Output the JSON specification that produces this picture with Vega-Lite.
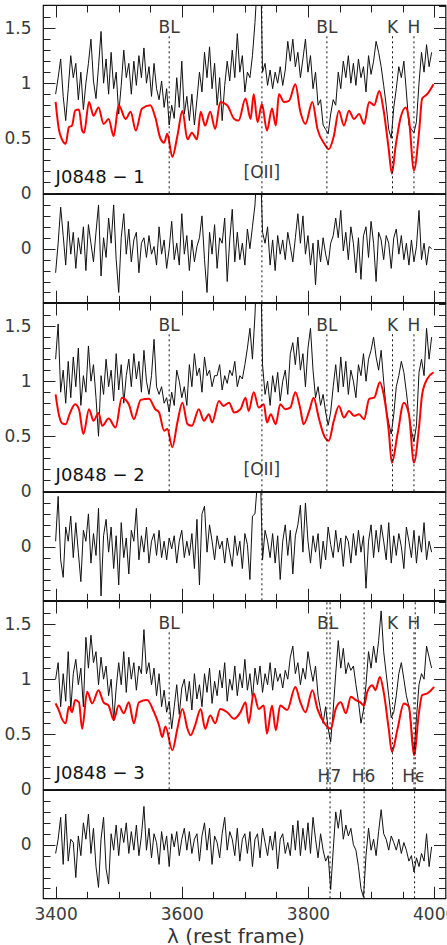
{
"$schema": "https://vega.github.io/schema/vega-lite/v6.json",
"padding": {"left": 3, "top": 3, "right": 0, "bottom": 0},
"background": "white",
"spacing": 0,
"bounds": "flush",
"config": {
 "view": {"stroke": "#111", "strokeWidth": 1.2},
 "axis": {"domain": false, "grid": false, "tickColor": "#222", "tickWidth": 1, "labelFont": "DejaVu Sans", "labelFontSize": 17, "labelColor": "#3a3a3a", "labelFlush": false, "labelOverlap": false, "labelBound": false, "titleFont": "DejaVu Sans"}
},
"datasets": {
"b1": [{"w":3400,"f":0.90},{"w":3404,"f":1.05},{"w":3408,"f":1.22},{"w":3412,"f":0.88},{"w":3416,"f":0.66},{"w":3420,"f":0.95},{"w":3424,"f":1.25},{"w":3428,"f":1.05},{"w":3432,"f":1.18},{"w":3436,"f":0.85},{"w":3440,"f":1.10},{"w":3444,"f":0.76},{"w":3448,"f":1.00},{"w":3452,"f":1.18},{"w":3456,"f":1.40},{"w":3460,"f":1.02},{"w":3464,"f":0.86},{"w":3468,"f":1.15},{"w":3472,"f":1.47},{"w":3476,"f":1.00},{"w":3480,"f":1.22},{"w":3484,"f":0.90},{"w":3488,"f":1.28},{"w":3492,"f":0.95},{"w":3496,"f":1.10},{"w":3500,"f":0.72},{"w":3504,"f":0.98},{"w":3508,"f":1.30},{"w":3512,"f":1.05},{"w":3516,"f":1.18},{"w":3520,"f":0.90},{"w":3524,"f":1.20},{"w":3528,"f":0.98},{"w":3532,"f":1.25},{"w":3536,"f":1.05},{"w":3540,"f":1.32},{"w":3544,"f":1.00},{"w":3548,"f":1.15},{"w":3552,"f":0.88},{"w":3556,"f":1.18},{"w":3560,"f":0.95},{"w":3564,"f":0.85},{"w":3568,"f":1.02},{"w":3572,"f":0.78},{"w":3576,"f":0.95},{"w":3580,"f":0.62},{"w":3584,"f":0.80},{"w":3588,"f":0.68},{"w":3592,"f":1.05},{"w":3596,"f":0.78},{"w":3600,"f":1.20},{"w":3604,"f":0.72},{"w":3608,"f":0.88},{"w":3612,"f":0.66},{"w":3616,"f":0.90},{"w":3620,"f":0.62},{"w":3624,"f":0.85},{"w":3628,"f":1.10},{"w":3632,"f":0.92},{"w":3636,"f":1.28},{"w":3640,"f":1.05},{"w":3644,"f":1.33},{"w":3648,"f":0.95},{"w":3652,"f":1.18},{"w":3656,"f":0.80},{"w":3660,"f":1.05},{"w":3664,"f":0.66},{"w":3668,"f":0.98},{"w":3672,"f":1.20},{"w":3676,"f":1.02},{"w":3680,"f":1.30},{"w":3684,"f":1.05},{"w":3688,"f":1.45},{"w":3692,"f":1.10},{"w":3696,"f":1.25},{"w":3700,"f":0.92},{"w":3704,"f":1.10},{"w":3708,"f":1.05},{"w":3712,"f":1.25},{"w":3716,"f":1.55},{"w":3720,"f":1.95},{"w":3724,"f":2.40},{"w":3728,"f":1.10},{"w":3732,"f":1.18},{"w":3736,"f":0.98},{"w":3740,"f":1.12},{"w":3744,"f":0.95},{"w":3748,"f":1.10},{"w":3752,"f":1.00},{"w":3756,"f":1.15},{"w":3760,"f":0.98},{"w":3764,"f":1.12},{"w":3768,"f":1.38},{"w":3772,"f":1.20},{"w":3776,"f":1.40},{"w":3780,"f":1.15},{"w":3784,"f":1.28},{"w":3788,"f":1.05},{"w":3792,"f":1.22},{"w":3796,"f":1.40},{"w":3800,"f":1.10},{"w":3804,"f":1.25},{"w":3808,"f":0.95},{"w":3812,"f":1.10},{"w":3816,"f":0.80},{"w":3820,"f":0.85},{"w":3824,"f":0.62},{"w":3828,"f":0.58},{"w":3832,"f":0.54},{"w":3836,"f":0.72},{"w":3840,"f":0.85},{"w":3844,"f":0.80},{"w":3848,"f":1.10},{"w":3852,"f":0.95},{"w":3856,"f":1.20},{"w":3860,"f":1.05},{"w":3864,"f":1.25},{"w":3868,"f":1.00},{"w":3872,"f":1.18},{"w":3876,"f":0.98},{"w":3880,"f":1.22},{"w":3884,"f":1.05},{"w":3888,"f":1.15},{"w":3892,"f":0.92},{"w":3896,"f":1.25},{"w":3900,"f":1.08},{"w":3904,"f":1.20},{"w":3908,"f":1.38},{"w":3912,"f":1.28},{"w":3916,"f":1.15},{"w":3920,"f":0.98},{"w":3924,"f":0.80},{"w":3928,"f":0.58},{"w":3932,"f":0.50},{"w":3936,"f":0.78},{"w":3940,"f":0.95},{"w":3944,"f":1.15},{"w":3948,"f":1.05},{"w":3952,"f":1.20},{"w":3956,"f":0.92},{"w":3960,"f":0.62},{"w":3964,"f":0.58},{"w":3968,"f":0.55},{"w":3972,"f":0.65},{"w":3976,"f":1.00},{"w":3980,"f":1.28},{"w":3984,"f":1.10},{"w":3988,"f":1.35},{"w":3992,"f":1.15},{"w":3996,"f":1.28}],
"m1": [{"w":3400,"f":0.83},{"w":3405,"f":0.585},{"w":3410,"f":0.49},{"w":3416,"f":0.45},{"w":3421,"f":0.60},{"w":3426,"f":0.615},{"w":3431,"f":0.75},{"w":3437,"f":0.76},{"w":3442,"f":0.57},{"w":3445,"f":0.55},{"w":3453,"f":0.83},{"w":3460,"f":0.705},{"w":3468,"f":0.78},{"w":3476,"f":0.63},{"w":3484,"f":0.675},{"w":3492,"f":0.52},{"w":3500,"f":0.80},{"w":3511,"f":0.675},{"w":3519,"f":0.74},{"w":3527,"f":0.57},{"w":3537,"f":0.77},{"w":3550,"f":0.80},{"w":3558,"f":0.69},{"w":3566,"f":0.50},{"w":3572,"f":0.46},{"w":3577,"f":0.54},{"w":3585,"f":0.33},{"w":3593,"f":0.52},{"w":3601,"f":0.75},{"w":3609,"f":0.49},{"w":3616,"f":0.55},{"w":3624,"f":0.49},{"w":3630,"f":0.74},{"w":3637,"f":0.615},{"w":3645,"f":0.74},{"w":3653,"f":0.585},{"w":3661,"f":0.83},{"w":3672,"f":0.80},{"w":3683,"f":0.675},{"w":3690,"f":0.66},{"w":3701,"f":0.86},{"w":3709,"f":0.675},{"w":3714,"f":0.90},{"w":3720,"f":0.645},{"w":3727,"f":0.81},{"w":3735,"f":0.57},{"w":3743,"f":0.77},{"w":3749,"f":0.615},{"w":3754,"f":0.90},{"w":3762,"f":0.83},{"w":3770,"f":0.84},{"w":3780,"f":0.99},{"w":3788,"f":0.74},{"w":3796,"f":0.63},{"w":3807,"f":0.83},{"w":3815,"f":0.585},{"w":3826,"f":0.45},{"w":3833,"f":0.40},{"w":3841,"f":0.52},{"w":3849,"f":0.75},{"w":3857,"f":0.615},{"w":3865,"f":0.75},{"w":3873,"f":0.675},{"w":3881,"f":0.72},{"w":3889,"f":0.63},{"w":3897,"f":0.83},{"w":3905,"f":0.80},{"w":3913,"f":0.93},{"w":3920,"f":0.75},{"w":3928,"f":0.40},{"w":3933,"f":0.18},{"w":3939,"f":0.43},{"w":3947,"f":0.69},{"w":3955,"f":0.78},{"w":3960,"f":0.675},{"w":3968,"f":0.21},{"w":3976,"f":0.55},{"w":3981,"f":0.86},{"w":3989,"f":0.90},{"w":3999,"f":0.99}],
"r1": [{"w":3400,"f":-0.22},{"w":3404,"f":0.05},{"w":3408,"f":0.38},{"w":3412,"f":0.12},{"w":3416,"f":-0.15},{"w":3420,"f":0.25},{"w":3424,"f":-0.05},{"w":3428,"f":0.15},{"w":3432,"f":-0.18},{"w":3436,"f":0.10},{"w":3440,"f":-0.05},{"w":3444,"f":0.20},{"w":3448,"f":-0.20},{"w":3452,"f":0.22},{"w":3456,"f":0.05},{"w":3460,"f":-0.12},{"w":3464,"f":0.15},{"w":3468,"f":0.40},{"w":3472,"f":-0.25},{"w":3476,"f":0.10},{"w":3480,"f":-0.08},{"w":3484,"f":0.28},{"w":3488,"f":0.05},{"w":3492,"f":0.40},{"w":3496,"f":-0.10},{"w":3500,"f":-0.40},{"w":3504,"f":0.10},{"w":3508,"f":0.32},{"w":3512,"f":-0.05},{"w":3516,"f":0.18},{"w":3520,"f":-0.12},{"w":3524,"f":0.08},{"w":3528,"f":0.15},{"w":3532,"f":-0.22},{"w":3536,"f":0.05},{"w":3540,"f":0.10},{"w":3544,"f":-0.08},{"w":3548,"f":0.12},{"w":3552,"f":-0.05},{"w":3556,"f":0.02},{"w":3560,"f":-0.15},{"w":3564,"f":0.20},{"w":3568,"f":-0.05},{"w":3572,"f":0.08},{"w":3576,"f":-0.18},{"w":3580,"f":0.00},{"w":3584,"f":0.25},{"w":3588,"f":-0.10},{"w":3592,"f":0.05},{"w":3596,"f":-0.15},{"w":3600,"f":0.32},{"w":3604,"f":-0.05},{"w":3608,"f":0.12},{"w":3612,"f":-0.20},{"w":3616,"f":0.08},{"w":3620,"f":-0.12},{"w":3624,"f":0.02},{"w":3628,"f":0.10},{"w":3632,"f":0.30},{"w":3636,"f":-0.10},{"w":3640,"f":-0.40},{"w":3644,"f":0.15},{"w":3648,"f":-0.05},{"w":3652,"f":0.22},{"w":3656,"f":-0.18},{"w":3660,"f":0.10},{"w":3664,"f":0.05},{"w":3668,"f":0.28},{"w":3672,"f":-0.30},{"w":3676,"f":0.08},{"w":3680,"f":0.36},{"w":3684,"f":-0.12},{"w":3688,"f":0.15},{"w":3692,"f":-0.10},{"w":3696,"f":0.05},{"w":3700,"f":-0.15},{"w":3704,"f":0.18},{"w":3708,"f":0.00},{"w":3712,"f":0.20},{"w":3716,"f":0.40},{"w":3720,"f":0.80},{"w":3724,"f":0.90},{"w":3728,"f":0.15},{"w":3732,"f":0.05},{"w":3736,"f":0.20},{"w":3740,"f":-0.15},{"w":3744,"f":0.08},{"w":3748,"f":-0.20},{"w":3752,"f":0.12},{"w":3756,"f":-0.05},{"w":3760,"f":0.08},{"w":3764,"f":-0.10},{"w":3768,"f":0.15},{"w":3772,"f":0.02},{"w":3776,"f":-0.12},{"w":3780,"f":0.10},{"w":3784,"f":0.32},{"w":3788,"f":0.05},{"w":3792,"f":0.30},{"w":3796,"f":-0.05},{"w":3800,"f":0.12},{"w":3804,"f":-0.15},{"w":3808,"f":0.05},{"w":3812,"f":-0.33},{"w":3816,"f":0.08},{"w":3820,"f":-0.12},{"w":3824,"f":0.10},{"w":3828,"f":-0.05},{"w":3832,"f":-0.15},{"w":3836,"f":0.05},{"w":3840,"f":0.12},{"w":3844,"f":0.28},{"w":3848,"f":0.10},{"w":3852,"f":0.35},{"w":3856,"f":-0.02},{"w":3860,"f":0.15},{"w":3864,"f":-0.10},{"w":3868,"f":0.20},{"w":3872,"f":0.05},{"w":3876,"f":-0.22},{"w":3880,"f":0.10},{"w":3884,"f":-0.28},{"w":3888,"f":0.12},{"w":3892,"f":0.20},{"w":3896,"f":-0.08},{"w":3900,"f":0.25},{"w":3904,"f":0.05},{"w":3908,"f":-0.30},{"w":3912,"f":0.15},{"w":3916,"f":0.08},{"w":3920,"f":-0.10},{"w":3924,"f":0.12},{"w":3928,"f":0.05},{"w":3932,"f":-0.18},{"w":3936,"f":0.10},{"w":3940,"f":0.18},{"w":3944,"f":-0.05},{"w":3948,"f":0.12},{"w":3952,"f":-0.10},{"w":3956,"f":0.05},{"w":3960,"f":-0.15},{"w":3964,"f":0.08},{"w":3968,"f":-0.12},{"w":3972,"f":0.02},{"w":3976,"f":0.35},{"w":3980,"f":-0.10},{"w":3984,"f":0.05},{"w":3988,"f":-0.15},{"w":3992,"f":0.02},{"w":3996,"f":0.00}],
"b2": [{"w":3400,"f":1.20},{"w":3404,"f":1.52},{"w":3408,"f":0.90},{"w":3412,"f":1.10},{"w":3416,"f":0.80},{"w":3420,"f":1.18},{"w":3424,"f":0.85},{"w":3428,"f":1.22},{"w":3432,"f":0.95},{"w":3436,"f":1.30},{"w":3440,"f":0.78},{"w":3444,"f":1.05},{"w":3448,"f":0.90},{"w":3452,"f":1.32},{"w":3456,"f":1.00},{"w":3460,"f":1.15},{"w":3464,"f":0.85},{"w":3468,"f":0.50},{"w":3472,"f":1.05},{"w":3476,"f":0.88},{"w":3480,"f":1.20},{"w":3484,"f":0.95},{"w":3488,"f":1.10},{"w":3492,"f":0.82},{"w":3496,"f":1.25},{"w":3500,"f":0.92},{"w":3504,"f":1.15},{"w":3508,"f":0.80},{"w":3512,"f":1.05},{"w":3516,"f":1.20},{"w":3520,"f":0.95},{"w":3524,"f":1.25},{"w":3528,"f":1.02},{"w":3532,"f":1.18},{"w":3536,"f":0.90},{"w":3540,"f":1.28},{"w":3544,"f":1.00},{"w":3548,"f":0.88},{"w":3552,"f":1.05},{"w":3556,"f":1.38},{"w":3560,"f":0.95},{"w":3564,"f":0.88},{"w":3568,"f":0.95},{"w":3572,"f":0.80},{"w":3576,"f":0.85},{"w":3580,"f":0.72},{"w":3584,"f":0.90},{"w":3588,"f":0.78},{"w":3592,"f":1.10},{"w":3596,"f":1.00},{"w":3600,"f":0.85},{"w":3604,"f":0.95},{"w":3608,"f":0.78},{"w":3612,"f":1.15},{"w":3616,"f":0.95},{"w":3620,"f":1.25},{"w":3624,"f":1.05},{"w":3628,"f":1.12},{"w":3632,"f":0.90},{"w":3636,"f":1.22},{"w":3640,"f":1.05},{"w":3644,"f":1.10},{"w":3648,"f":0.95},{"w":3652,"f":1.05},{"w":3656,"f":1.05},{"w":3660,"f":1.15},{"w":3664,"f":0.92},{"w":3668,"f":1.05},{"w":3672,"f":0.98},{"w":3676,"f":1.10},{"w":3680,"f":1.05},{"w":3684,"f":1.18},{"w":3688,"f":0.95},{"w":3692,"f":1.05},{"w":3696,"f":1.02},{"w":3700,"f":1.15},{"w":3704,"f":1.30},{"w":3708,"f":1.48},{"w":3712,"f":1.20},{"w":3716,"f":1.60},{"w":3720,"f":2.20},{"w":3724,"f":2.40},{"w":3728,"f":1.15},{"w":3732,"f":0.88},{"w":3736,"f":1.00},{"w":3740,"f":0.78},{"w":3744,"f":1.05},{"w":3748,"f":0.90},{"w":3752,"f":1.08},{"w":3756,"f":0.82},{"w":3760,"f":1.00},{"w":3764,"f":1.10},{"w":3768,"f":0.88},{"w":3772,"f":1.25},{"w":3776,"f":1.35},{"w":3780,"f":1.15},{"w":3784,"f":1.40},{"w":3788,"f":1.10},{"w":3792,"f":1.25},{"w":3796,"f":0.95},{"w":3800,"f":1.30},{"w":3804,"f":1.48},{"w":3808,"f":1.10},{"w":3812,"f":0.85},{"w":3816,"f":0.95},{"w":3820,"f":0.78},{"w":3824,"f":0.88},{"w":3828,"f":0.72},{"w":3832,"f":0.60},{"w":3836,"f":0.72},{"w":3840,"f":0.95},{"w":3844,"f":1.15},{"w":3848,"f":0.90},{"w":3852,"f":1.22},{"w":3856,"f":0.95},{"w":3860,"f":1.18},{"w":3864,"f":0.88},{"w":3868,"f":1.10},{"w":3872,"f":1.00},{"w":3876,"f":0.85},{"w":3880,"f":1.15},{"w":3884,"f":1.05},{"w":3888,"f":1.25},{"w":3892,"f":1.00},{"w":3896,"f":1.20},{"w":3900,"f":1.28},{"w":3904,"f":1.40},{"w":3908,"f":1.22},{"w":3912,"f":1.10},{"w":3916,"f":1.28},{"w":3920,"f":1.00},{"w":3924,"f":0.75},{"w":3928,"f":0.62},{"w":3932,"f":0.52},{"w":3936,"f":0.70},{"w":3940,"f":0.95},{"w":3944,"f":1.05},{"w":3948,"f":1.18},{"w":3952,"f":1.08},{"w":3956,"f":0.90},{"w":3960,"f":0.70},{"w":3964,"f":0.55},{"w":3968,"f":0.45},{"w":3972,"f":0.60},{"w":3976,"f":1.08},{"w":3980,"f":1.20},{"w":3984,"f":1.05},{"w":3988,"f":1.48},{"w":3992,"f":1.20},{"w":3996,"f":1.40}],
"m2": [{"w":3400,"f":0.88},{"w":3405,"f":0.70},{"w":3410,"f":0.62},{"w":3416,"f":0.61},{"w":3423,"f":0.715},{"w":3431,"f":0.79},{"w":3437,"f":0.745},{"w":3444,"f":0.52},{"w":3453,"f":0.745},{"w":3460,"f":0.64},{"w":3468,"f":0.71},{"w":3474,"f":0.595},{"w":3484,"f":0.66},{"w":3495,"f":0.58},{"w":3505,"f":0.85},{"w":3516,"f":0.79},{"w":3524,"f":0.655},{"w":3535,"f":0.83},{"w":3548,"f":0.84},{"w":3558,"f":0.745},{"w":3564,"f":0.715},{"w":3572,"f":0.55},{"w":3577,"f":0.565},{"w":3585,"f":0.40},{"w":3593,"f":0.625},{"w":3601,"f":0.805},{"w":3609,"f":0.61},{"w":3616,"f":0.595},{"w":3627,"f":0.745},{"w":3635,"f":0.64},{"w":3643,"f":0.70},{"w":3648,"f":0.625},{"w":3659,"f":0.82},{"w":3666,"f":0.775},{"w":3675,"f":0.805},{"w":3683,"f":0.715},{"w":3693,"f":0.745},{"w":3701,"f":0.85},{"w":3706,"f":0.73},{"w":3714,"f":0.90},{"w":3722,"f":0.76},{"w":3730,"f":0.79},{"w":3735,"f":0.625},{"w":3741,"f":0.70},{"w":3749,"f":0.61},{"w":3756,"f":0.79},{"w":3764,"f":0.745},{"w":3772,"f":0.76},{"w":3780,"f":0.90},{"w":3788,"f":0.745},{"w":3793,"f":0.61},{"w":3802,"f":0.73},{"w":3809,"f":0.85},{"w":3817,"f":0.67},{"w":3826,"f":0.50},{"w":3833,"f":0.46},{"w":3841,"f":0.64},{"w":3849,"f":0.775},{"w":3857,"f":0.67},{"w":3865,"f":0.73},{"w":3873,"f":0.685},{"w":3881,"f":0.70},{"w":3889,"f":0.655},{"w":3897,"f":0.84},{"w":3905,"f":0.85},{"w":3914,"f":0.99},{"w":3920,"f":0.88},{"w":3928,"f":0.55},{"w":3933,"f":0.26},{"w":3942,"f":0.52},{"w":3952,"f":0.805},{"w":3960,"f":0.70},{"w":3968,"f":0.26},{"w":3976,"f":0.58},{"w":3981,"f":0.88},{"w":3989,"f":1.02},{"w":3999,"f":1.08}],
"r2": [{"w":3400,"f":0.05},{"w":3404,"f":0.46},{"w":3408,"f":-0.12},{"w":3412,"f":-0.28},{"w":3416,"f":0.18},{"w":3420,"f":0.05},{"w":3424,"f":0.28},{"w":3428,"f":-0.10},{"w":3432,"f":0.22},{"w":3436,"f":-0.05},{"w":3440,"f":-0.32},{"w":3444,"f":0.15},{"w":3448,"f":0.05},{"w":3452,"f":0.30},{"w":3456,"f":-0.15},{"w":3460,"f":0.12},{"w":3464,"f":-0.08},{"w":3468,"f":0.35},{"w":3472,"f":-0.45},{"w":3476,"f":0.10},{"w":3480,"f":0.25},{"w":3484,"f":-0.05},{"w":3488,"f":0.18},{"w":3492,"f":-0.20},{"w":3496,"f":0.10},{"w":3500,"f":-0.35},{"w":3504,"f":0.22},{"w":3508,"f":-0.10},{"w":3512,"f":0.08},{"w":3516,"f":-0.25},{"w":3520,"f":0.15},{"w":3524,"f":0.05},{"w":3528,"f":0.35},{"w":3532,"f":-0.12},{"w":3536,"f":0.10},{"w":3540,"f":-0.05},{"w":3544,"f":0.18},{"w":3548,"f":-0.15},{"w":3552,"f":0.05},{"w":3556,"f":0.12},{"w":3560,"f":-0.08},{"w":3564,"f":0.15},{"w":3568,"f":-0.10},{"w":3572,"f":0.05},{"w":3576,"f":-0.12},{"w":3580,"f":0.08},{"w":3584,"f":-0.02},{"w":3588,"f":0.10},{"w":3592,"f":-0.15},{"w":3596,"f":0.05},{"w":3600,"f":0.15},{"w":3604,"f":-0.10},{"w":3608,"f":0.05},{"w":3612,"f":-0.08},{"w":3616,"f":0.12},{"w":3620,"f":-0.20},{"w":3624,"f":0.25},{"w":3628,"f":-0.35},{"w":3632,"f":0.30},{"w":3636,"f":0.37},{"w":3640,"f":-0.05},{"w":3644,"f":0.20},{"w":3648,"f":0.05},{"w":3652,"f":-0.12},{"w":3656,"f":0.10},{"w":3660,"f":-0.02},{"w":3664,"f":0.05},{"w":3668,"f":-0.15},{"w":3672,"f":0.08},{"w":3676,"f":-0.05},{"w":3680,"f":-0.18},{"w":3684,"f":0.10},{"w":3688,"f":-0.08},{"w":3692,"f":0.05},{"w":3696,"f":-0.20},{"w":3700,"f":0.12},{"w":3704,"f":0.02},{"w":3708,"f":-0.30},{"w":3712,"f":0.28},{"w":3716,"f":0.30},{"w":3720,"f":0.60},{"w":3724,"f":0.80},{"w":3728,"f":-0.12},{"w":3732,"f":0.15},{"w":3736,"f":0.05},{"w":3740,"f":-0.10},{"w":3744,"f":0.12},{"w":3748,"f":-0.15},{"w":3752,"f":0.10},{"w":3756,"f":-0.30},{"w":3760,"f":0.05},{"w":3764,"f":0.20},{"w":3768,"f":-0.08},{"w":3772,"f":0.15},{"w":3776,"f":-0.25},{"w":3780,"f":0.10},{"w":3784,"f":0.20},{"w":3788,"f":0.38},{"w":3792,"f":-0.05},{"w":3796,"f":0.40},{"w":3800,"f":0.05},{"w":3804,"f":-0.15},{"w":3808,"f":0.10},{"w":3812,"f":-0.05},{"w":3816,"f":0.12},{"w":3820,"f":-0.20},{"w":3824,"f":0.05},{"w":3828,"f":-0.12},{"w":3832,"f":0.18},{"w":3836,"f":0.02},{"w":3840,"f":-0.10},{"w":3844,"f":0.15},{"w":3848,"f":-0.05},{"w":3852,"f":0.08},{"w":3856,"f":-0.18},{"w":3860,"f":0.10},{"w":3864,"f":0.05},{"w":3868,"f":-0.15},{"w":3872,"f":0.12},{"w":3876,"f":-0.08},{"w":3880,"f":0.15},{"w":3884,"f":-0.05},{"w":3888,"f":0.10},{"w":3892,"f":-0.38},{"w":3896,"f":0.05},{"w":3900,"f":0.20},{"w":3904,"f":-0.10},{"w":3908,"f":0.15},{"w":3912,"f":-0.05},{"w":3916,"f":0.20},{"w":3920,"f":0.05},{"w":3924,"f":-0.12},{"w":3928,"f":0.22},{"w":3932,"f":-0.15},{"w":3936,"f":0.10},{"w":3940,"f":-0.08},{"w":3944,"f":0.12},{"w":3948,"f":0.00},{"w":3952,"f":-0.20},{"w":3956,"f":0.18},{"w":3960,"f":0.05},{"w":3964,"f":-0.10},{"w":3968,"f":0.15},{"w":3972,"f":-0.15},{"w":3976,"f":0.10},{"w":3980,"f":-0.05},{"w":3984,"f":0.22},{"w":3988,"f":-0.12},{"w":3992,"f":0.05},{"w":3996,"f":-0.05}],
"b3": [{"w":3400,"f":1.00},{"w":3404,"f":1.15},{"w":3408,"f":0.75},{"w":3412,"f":1.05},{"w":3416,"f":0.80},{"w":3420,"f":1.25},{"w":3424,"f":0.72},{"w":3428,"f":1.05},{"w":3432,"f":1.18},{"w":3436,"f":0.95},{"w":3440,"f":1.10},{"w":3444,"f":0.75},{"w":3448,"f":1.38},{"w":3452,"f":1.10},{"w":3456,"f":1.40},{"w":3460,"f":1.15},{"w":3464,"f":1.25},{"w":3468,"f":0.95},{"w":3472,"f":1.20},{"w":3476,"f":1.00},{"w":3480,"f":1.12},{"w":3484,"f":0.85},{"w":3488,"f":1.00},{"w":3492,"f":0.62},{"w":3496,"f":0.92},{"w":3500,"f":1.15},{"w":3504,"f":0.95},{"w":3508,"f":1.25},{"w":3512,"f":0.88},{"w":3516,"f":1.20},{"w":3520,"f":1.00},{"w":3524,"f":1.15},{"w":3528,"f":0.90},{"w":3532,"f":1.12},{"w":3536,"f":1.05},{"w":3540,"f":1.45},{"w":3544,"f":1.05},{"w":3548,"f":1.15},{"w":3552,"f":0.95},{"w":3556,"f":1.10},{"w":3560,"f":0.85},{"w":3564,"f":1.05},{"w":3568,"f":0.75},{"w":3572,"f":0.90},{"w":3576,"f":0.70},{"w":3580,"f":0.80},{"w":3584,"f":0.55},{"w":3588,"f":0.75},{"w":3592,"f":0.95},{"w":3596,"f":0.68},{"w":3600,"f":0.92},{"w":3604,"f":1.00},{"w":3608,"f":0.80},{"w":3612,"f":0.98},{"w":3616,"f":0.72},{"w":3620,"f":1.05},{"w":3624,"f":0.82},{"w":3628,"f":0.95},{"w":3632,"f":0.75},{"w":3636,"f":1.05},{"w":3640,"f":0.88},{"w":3644,"f":1.10},{"w":3648,"f":0.78},{"w":3652,"f":0.98},{"w":3656,"f":0.85},{"w":3660,"f":1.08},{"w":3664,"f":0.92},{"w":3668,"f":1.15},{"w":3672,"f":0.80},{"w":3676,"f":1.00},{"w":3680,"f":0.90},{"w":3684,"f":1.12},{"w":3688,"f":0.85},{"w":3692,"f":1.05},{"w":3696,"f":0.92},{"w":3700,"f":1.18},{"w":3704,"f":0.90},{"w":3708,"f":1.05},{"w":3712,"f":0.82},{"w":3716,"f":1.10},{"w":3720,"f":0.95},{"w":3724,"f":1.12},{"w":3728,"f":0.88},{"w":3732,"f":1.05},{"w":3736,"f":0.95},{"w":3740,"f":1.15},{"w":3744,"f":0.90},{"w":3748,"f":1.10},{"w":3752,"f":0.98},{"w":3756,"f":1.05},{"w":3760,"f":0.92},{"w":3764,"f":1.08},{"w":3768,"f":1.00},{"w":3772,"f":1.20},{"w":3776,"f":1.30},{"w":3780,"f":1.05},{"w":3784,"f":1.15},{"w":3788,"f":0.95},{"w":3792,"f":1.10},{"w":3796,"f":1.00},{"w":3800,"f":1.25},{"w":3804,"f":1.10},{"w":3808,"f":0.98},{"w":3812,"f":1.12},{"w":3816,"f":0.85},{"w":3820,"f":0.72},{"w":3824,"f":0.60},{"w":3828,"f":0.75},{"w":3832,"f":0.55},{"w":3836,"f":0.43},{"w":3840,"f":0.72},{"w":3844,"f":1.05},{"w":3848,"f":1.35},{"w":3852,"f":1.10},{"w":3856,"f":1.28},{"w":3860,"f":1.05},{"w":3864,"f":1.15},{"w":3868,"f":1.08},{"w":3872,"f":1.12},{"w":3876,"f":0.95},{"w":3880,"f":0.80},{"w":3884,"f":0.60},{"w":3888,"f":0.72},{"w":3892,"f":0.95},{"w":3896,"f":1.25},{"w":3900,"f":1.10},{"w":3904,"f":1.30},{"w":3908,"f":1.15},{"w":3912,"f":1.35},{"w":3916,"f":1.62},{"w":3920,"f":1.25},{"w":3924,"f":1.05},{"w":3928,"f":0.85},{"w":3932,"f":0.65},{"w":3936,"f":0.70},{"w":3940,"f":0.85},{"w":3944,"f":1.05},{"w":3948,"f":1.15},{"w":3952,"f":1.00},{"w":3956,"f":0.85},{"w":3960,"f":0.75},{"w":3964,"f":0.55},{"w":3968,"f":0.32},{"w":3972,"f":0.65},{"w":3976,"f":0.95},{"w":3980,"f":1.05},{"w":3984,"f":1.00},{"w":3988,"f":1.30},{"w":3992,"f":1.20},{"w":3996,"f":1.10}],
"m3": [{"w":3400,"f":0.78},{"w":3405,"f":0.72},{"w":3410,"f":0.64},{"w":3416,"f":0.60},{"w":3421,"f":0.75},{"w":3426,"f":0.70},{"w":3431,"f":0.81},{"w":3437,"f":0.79},{"w":3442,"f":0.55},{"w":3450,"f":0.885},{"w":3458,"f":0.78},{"w":3468,"f":0.90},{"w":3476,"f":0.79},{"w":3484,"f":0.76},{"w":3492,"f":0.63},{"w":3500,"f":0.76},{"w":3508,"f":0.69},{"w":3516,"f":0.79},{"w":3524,"f":0.60},{"w":3532,"f":0.79},{"w":3545,"f":0.81},{"w":3556,"f":0.70},{"w":3564,"f":0.58},{"w":3569,"f":0.475},{"w":3574,"f":0.57},{"w":3585,"f":0.355},{"w":3593,"f":0.55},{"w":3601,"f":0.73},{"w":3609,"f":0.55},{"w":3614,"f":0.49},{"w":3621,"f":0.58},{"w":3630,"f":0.73},{"w":3637,"f":0.55},{"w":3645,"f":0.67},{"w":3653,"f":0.60},{"w":3661,"f":0.73},{"w":3672,"f":0.70},{"w":3683,"f":0.64},{"w":3693,"f":0.70},{"w":3701,"f":0.79},{"w":3706,"f":0.60},{"w":3714,"f":0.87},{"w":3722,"f":0.73},{"w":3730,"f":0.76},{"w":3735,"f":0.505},{"w":3743,"f":0.76},{"w":3749,"f":0.535},{"w":3756,"f":0.76},{"w":3767,"f":0.72},{"w":3780,"f":0.93},{"w":3788,"f":0.79},{"w":3796,"f":0.70},{"w":3807,"f":0.90},{"w":3815,"f":0.73},{"w":3826,"f":0.60},{"w":3836,"f":0.55},{"w":3844,"f":0.73},{"w":3852,"f":0.79},{"w":3860,"f":0.69},{"w":3868,"f":0.84},{"w":3876,"f":0.81},{"w":3883,"f":0.79},{"w":3889,"f":0.76},{"w":3894,"f":0.885},{"w":3902,"f":0.945},{"w":3907,"f":0.90},{"w":3914,"f":1.02},{"w":3920,"f":0.885},{"w":3928,"f":0.55},{"w":3933,"f":0.34},{"w":3942,"f":0.55},{"w":3952,"f":0.78},{"w":3960,"f":0.75},{"w":3968,"f":0.31},{"w":3976,"f":0.70},{"w":3981,"f":0.855},{"w":3989,"f":0.87},{"w":4000,"f":0.93}],
"r3": [{"w":3400,"f":-0.08},{"w":3404,"f":0.05},{"w":3408,"f":0.25},{"w":3412,"f":-0.18},{"w":3416,"f":0.28},{"w":3420,"f":-0.15},{"w":3424,"f":0.05},{"w":3428,"f":0.02},{"w":3432,"f":-0.30},{"w":3436,"f":0.08},{"w":3440,"f":-0.10},{"w":3444,"f":0.20},{"w":3448,"f":0.05},{"w":3452,"f":0.28},{"w":3456,"f":-0.08},{"w":3460,"f":0.15},{"w":3464,"f":-0.20},{"w":3468,"f":-0.39},{"w":3472,"f":0.05},{"w":3476,"f":0.25},{"w":3480,"f":-0.22},{"w":3484,"f":-0.36},{"w":3488,"f":0.10},{"w":3492,"f":-0.05},{"w":3496,"f":0.18},{"w":3500,"f":-0.10},{"w":3504,"f":0.15},{"w":3508,"f":0.02},{"w":3512,"f":0.20},{"w":3516,"f":-0.08},{"w":3520,"f":0.12},{"w":3524,"f":-0.05},{"w":3528,"f":0.18},{"w":3532,"f":-0.10},{"w":3536,"f":0.08},{"w":3540,"f":0.35},{"w":3544,"f":-0.05},{"w":3548,"f":0.15},{"w":3552,"f":-0.12},{"w":3556,"f":0.10},{"w":3560,"f":0.02},{"w":3564,"f":-0.18},{"w":3568,"f":0.12},{"w":3572,"f":-0.05},{"w":3576,"f":0.08},{"w":3580,"f":-0.20},{"w":3584,"f":0.10},{"w":3588,"f":-0.02},{"w":3592,"f":0.12},{"w":3596,"f":-0.10},{"w":3600,"f":0.05},{"w":3604,"f":0.15},{"w":3608,"f":-0.05},{"w":3612,"f":0.12},{"w":3616,"f":-0.08},{"w":3620,"f":0.05},{"w":3624,"f":0.10},{"w":3628,"f":-0.15},{"w":3632,"f":0.08},{"w":3636,"f":0.20},{"w":3640,"f":-0.05},{"w":3644,"f":0.15},{"w":3648,"f":-0.18},{"w":3652,"f":0.08},{"w":3656,"f":0.02},{"w":3660,"f":-0.12},{"w":3664,"f":0.10},{"w":3668,"f":0.25},{"w":3672,"f":-0.05},{"w":3676,"f":0.12},{"w":3680,"f":0.05},{"w":3684,"f":-0.10},{"w":3688,"f":0.15},{"w":3692,"f":-0.15},{"w":3696,"f":0.05},{"w":3700,"f":0.10},{"w":3704,"f":-0.08},{"w":3708,"f":0.12},{"w":3712,"f":-0.20},{"w":3716,"f":0.05},{"w":3720,"f":0.10},{"w":3724,"f":-0.12},{"w":3728,"f":0.15},{"w":3732,"f":0.02},{"w":3736,"f":-0.10},{"w":3740,"f":0.08},{"w":3744,"f":-0.05},{"w":3748,"f":0.12},{"w":3752,"f":-0.22},{"w":3756,"f":0.05},{"w":3760,"f":0.10},{"w":3764,"f":-0.08},{"w":3768,"f":0.02},{"w":3772,"f":-0.10},{"w":3776,"f":0.18},{"w":3780,"f":-0.05},{"w":3784,"f":0.22},{"w":3788,"f":-0.10},{"w":3792,"f":0.15},{"w":3796,"f":-0.05},{"w":3800,"f":0.20},{"w":3804,"f":-0.08},{"w":3808,"f":0.25},{"w":3812,"f":0.05},{"w":3816,"f":-0.12},{"w":3820,"f":0.10},{"w":3824,"f":-0.05},{"w":3828,"f":-0.15},{"w":3832,"f":-0.10},{"w":3836,"f":-0.41},{"w":3840,"f":-0.05},{"w":3844,"f":0.30},{"w":3848,"f":0.15},{"w":3852,"f":0.32},{"w":3856,"f":0.05},{"w":3860,"f":0.18},{"w":3864,"f":0.08},{"w":3868,"f":0.15},{"w":3872,"f":0.00},{"w":3876,"f":-0.05},{"w":3880,"f":-0.20},{"w":3884,"f":-0.40},{"w":3888,"f":-0.48},{"w":3892,"f":-0.10},{"w":3896,"f":0.15},{"w":3900,"f":-0.05},{"w":3904,"f":0.05},{"w":3908,"f":-0.10},{"w":3912,"f":0.12},{"w":3916,"f":0.32},{"w":3920,"f":0.10},{"w":3924,"f":0.05},{"w":3928,"f":-0.05},{"w":3932,"f":0.08},{"w":3936,"f":0.02},{"w":3940,"f":-0.05},{"w":3944,"f":0.05},{"w":3948,"f":-0.08},{"w":3952,"f":0.02},{"w":3956,"f":-0.05},{"w":3960,"f":-0.15},{"w":3964,"f":-0.10},{"w":3968,"f":-0.25},{"w":3972,"f":-0.12},{"w":3976,"f":-0.20},{"w":3980,"f":-0.08},{"w":3984,"f":-0.15},{"w":3988,"f":0.10},{"w":3992,"f":-0.20},{"w":3996,"f":-0.02}]
},
"vconcat": [
 {"width": 402.5, "height": 188.3, "resolve": {"axis": {"x": "independent", "y": "independent"}},
  "layer": [
   {"data": {"name": "b1"}, "mark": {"type": "line", "color": "#111", "strokeWidth": 1, "clip": true},
    "encoding": {
     "x": {"field": "w", "type": "quantitative", "scale": {"domain": [3380, 4018], "nice": false, "zero": false}, "axis": {"orient": "top", "values": [3400,3450,3500,3550,3600,3650,3700,3750,3800,3850,3900,3950,4000], "labels": false, "title": null, "tickSize": {"condition": {"test": "datum.value % 200 === 0", "value": -12}, "value": -7}}},
     "y": {"field": "f", "type": "quantitative", "scale": {"domain": [0, 1.71], "nice": false, "zero": false}, "axis": {"orient": "left", "values": [0,0.1,0.2,0.3,0.4,0.5,0.6,0.7,0.8,0.9,1,1.1,1.2,1.3,1.4,1.5,1.6], "title": null, "labelPadding": 24, "labelExpr": "indexof([0,0.5,1,1.5], datum.value) >= 0 ? format(datum.value, '~g') : ''", "tickSize": {"condition": {"test": "indexof([0,0.5,1,1.5], datum.value) >= 0", "value": -12}, "value": -7}}}}},
   {"data": {"name": "m1"}, "mark": {"type": "line", "color": "#ff0000", "strokeWidth": 2, "interpolate": "monotone", "clip": true},
    "encoding": {
     "x": {"field": "w", "type": "quantitative", "scale": {"domain": [3380, 4018], "nice": false, "zero": false}, "axis": null},
     "y": {"field": "f", "type": "quantitative", "scale": {"domain": [0, 1.71], "nice": false, "zero": false}, "axis": {"orient": "right", "values": [0,0.1,0.2,0.3,0.4,0.5,0.6,0.7,0.8,0.9,1,1.1,1.2,1.3,1.4,1.5,1.6,1.7], "labels": false, "title": null, "tickSize": {"condition": {"test": "indexof([0,0.5,1,1.5], datum.value) >= 0", "value": -12}, "value": -7}}}}},
   {"data": {"values": [{"w":3580,"y1":0,"y2":1.43},{"w":3727,"y1":0,"y2":1.71},{"w":3830,"y1":0,"y2":1.43},{"w":3934,"y1":0,"y2":1.43},{"w":3968,"y1":0,"y2":1.43}]},
    "mark": {"type": "rule", "color": "#111", "strokeWidth": 1, "strokeDash": [2, 3]},
    "encoding": {
     "x": {"field": "w", "type": "quantitative", "scale": {"domain": [3380, 4018], "nice": false, "zero": false}, "axis": null},
     "y": {"field": "y1", "type": "quantitative", "scale": {"domain": [0, 1.71], "nice": false, "zero": false}, "axis": null},
     "y2": {"field": "y2"}}},
   {"data": {"values": [{"w":3580,"f":1.5,"t":"BL"},{"w":3830,"f":1.5,"t":"BL"},{"w":3934,"f":1.5,"t":"K"},{"w":3968,"f":1.5,"t":"H"},{"w":3727,"f":0.186,"t":"[OII]"}]},
    "mark": {"type": "text", "font": "DejaVu Sans", "fontSize": 17, "color": "#3a3a3a", "align": "center", "baseline": "middle"},
    "encoding": {
     "x": {"field": "w", "type": "quantitative", "scale": {"domain": [3380, 4018], "nice": false, "zero": false}, "axis": null},
     "y": {"field": "f", "type": "quantitative", "scale": {"domain": [0, 1.71], "nice": false, "zero": false}, "axis": null},
     "text": {"field": "t"}}},
   {"data": {"values": [{"w":3400,"f":0.14,"t":"J0848 − 1"}]},
    "mark": {"type": "text", "font": "DejaVu Sans", "fontSize": 18, "color": "#111", "align": "left", "baseline": "middle"},
    "encoding": {
     "x": {"field": "w", "type": "quantitative", "scale": {"domain": [3380, 4018], "nice": false, "zero": false}, "axis": null},
     "y": {"field": "f", "type": "quantitative", "scale": {"domain": [0, 1.71], "nice": false, "zero": false}, "axis": null},
     "text": {"field": "t"}}}
  ]},
 {"width": 402.5, "height": 108.3, "resolve": {"axis": {"x": "independent", "y": "independent"}},
  "layer": [
   {"data": {"name": "r1"}, "mark": {"type": "line", "color": "#111", "strokeWidth": 1, "clip": true},
    "encoding": {
     "x": {"field": "w", "type": "quantitative", "scale": {"domain": [3380, 4018], "nice": false, "zero": false}, "axis": {"orient": "bottom", "values": [3400,3450,3500,3550,3600,3650,3700,3750,3800,3850,3900,3950,4000], "labels": false, "title": null, "tickSize": {"condition": {"test": "datum.value % 200 === 0", "value": -12}, "value": -7}}},
     "y": {"field": "f", "type": "quantitative", "scale": {"domain": [-0.49, 0.5], "nice": false, "zero": false}, "axis": {"orient": "left", "values": [-0.4,-0.3,-0.2,-0.1,0,0.1,0.2,0.3,0.4], "title": null, "labelPadding": 24, "labelExpr": "datum.value === 0 ? '0' : ''", "tickSize": {"condition": {"test": "datum.value === 0", "value": -12}, "value": -7}}}}},
   {"data": {"values": [{"w":3727,"y1":-0.49,"y2":0.5}]},
    "mark": {"type": "rule", "color": "#111", "strokeWidth": 1, "strokeDash": [2, 3]},
    "encoding": {
     "x": {"field": "w", "type": "quantitative", "scale": {"domain": [3380, 4018], "nice": false, "zero": false}, "axis": null},
     "y": {"field": "y1", "type": "quantitative", "scale": {"domain": [-0.49, 0.5], "nice": false, "zero": false}, "axis": {"orient": "right", "values": [-0.4,-0.3,-0.2,-0.1,0,0.1,0.2,0.3,0.4], "labels": false, "title": null, "tickSize": {"condition": {"test": "datum.value === 0", "value": -12}, "value": -7}}},
     "y2": {"field": "y2"}}}
  ]},
 {"width": 402.5, "height": 188.3, "resolve": {"axis": {"x": "independent", "y": "independent"}},
  "layer": [
   {"data": {"name": "b2"}, "mark": {"type": "line", "color": "#111", "strokeWidth": 1, "clip": true},
    "encoding": {
     "x": {"field": "w", "type": "quantitative", "scale": {"domain": [3380, 4018], "nice": false, "zero": false}, "axis": {"orient": "top", "values": [3400,3450,3500,3550,3600,3650,3700,3750,3800,3850,3900,3950,4000], "labels": false, "title": null, "tickSize": {"condition": {"test": "datum.value % 200 === 0", "value": -12}, "value": -7}}},
     "y": {"field": "f", "type": "quantitative", "scale": {"domain": [0, 1.71], "nice": false, "zero": false}, "axis": {"orient": "left", "values": [0,0.1,0.2,0.3,0.4,0.5,0.6,0.7,0.8,0.9,1,1.1,1.2,1.3,1.4,1.5,1.6], "title": null, "labelPadding": 24, "labelExpr": "indexof([0,0.5,1,1.5], datum.value) >= 0 ? format(datum.value, '~g') : ''", "tickSize": {"condition": {"test": "indexof([0,0.5,1,1.5], datum.value) >= 0", "value": -12}, "value": -7}}}}},
   {"data": {"name": "m2"}, "mark": {"type": "line", "color": "#ff0000", "strokeWidth": 2, "interpolate": "monotone", "clip": true},
    "encoding": {
     "x": {"field": "w", "type": "quantitative", "scale": {"domain": [3380, 4018], "nice": false, "zero": false}, "axis": null},
     "y": {"field": "f", "type": "quantitative", "scale": {"domain": [0, 1.71], "nice": false, "zero": false}, "axis": {"orient": "right", "values": [0,0.1,0.2,0.3,0.4,0.5,0.6,0.7,0.8,0.9,1,1.1,1.2,1.3,1.4,1.5,1.6,1.7], "labels": false, "title": null, "tickSize": {"condition": {"test": "indexof([0,0.5,1,1.5], datum.value) >= 0", "value": -12}, "value": -7}}}}},
   {"data": {"values": [{"w":3580,"y1":0,"y2":1.43},{"w":3727,"y1":0,"y2":1.71},{"w":3830,"y1":0,"y2":1.43},{"w":3934,"y1":0,"y2":1.43},{"w":3968,"y1":0,"y2":1.43}]},
    "mark": {"type": "rule", "color": "#111", "strokeWidth": 1, "strokeDash": [2, 3]},
    "encoding": {
     "x": {"field": "w", "type": "quantitative", "scale": {"domain": [3380, 4018], "nice": false, "zero": false}, "axis": null},
     "y": {"field": "y1", "type": "quantitative", "scale": {"domain": [0, 1.71], "nice": false, "zero": false}, "axis": null},
     "y2": {"field": "y2"}}},
   {"data": {"values": [{"w":3580,"f":1.5,"t":"BL"},{"w":3830,"f":1.5,"t":"BL"},{"w":3934,"f":1.5,"t":"K"},{"w":3968,"f":1.5,"t":"H"},{"w":3727,"f":0.19,"t":"[OII]"}]},
    "mark": {"type": "text", "font": "DejaVu Sans", "fontSize": 17, "color": "#3a3a3a", "align": "center", "baseline": "middle"},
    "encoding": {
     "x": {"field": "w", "type": "quantitative", "scale": {"domain": [3380, 4018], "nice": false, "zero": false}, "axis": null},
     "y": {"field": "f", "type": "quantitative", "scale": {"domain": [0, 1.71], "nice": false, "zero": false}, "axis": null},
     "text": {"field": "t"}}},
   {"data": {"values": [{"w":3400,"f":0.14,"t":"J0848 − 2"}]},
    "mark": {"type": "text", "font": "DejaVu Sans", "fontSize": 18, "color": "#111", "align": "left", "baseline": "middle"},
    "encoding": {
     "x": {"field": "w", "type": "quantitative", "scale": {"domain": [3380, 4018], "nice": false, "zero": false}, "axis": null},
     "y": {"field": "f", "type": "quantitative", "scale": {"domain": [0, 1.71], "nice": false, "zero": false}, "axis": null},
     "text": {"field": "t"}}}
  ]},
 {"width": 402.5, "height": 108.3, "resolve": {"axis": {"x": "independent", "y": "independent"}},
  "layer": [
   {"data": {"name": "r2"}, "mark": {"type": "line", "color": "#111", "strokeWidth": 1, "clip": true},
    "encoding": {
     "x": {"field": "w", "type": "quantitative", "scale": {"domain": [3380, 4018], "nice": false, "zero": false}, "axis": {"orient": "bottom", "values": [3400,3450,3500,3550,3600,3650,3700,3750,3800,3850,3900,3950,4000], "labels": false, "title": null, "tickSize": {"condition": {"test": "datum.value % 200 === 0", "value": -12}, "value": -7}}},
     "y": {"field": "f", "type": "quantitative", "scale": {"domain": [-0.49, 0.5], "nice": false, "zero": false}, "axis": {"orient": "left", "values": [-0.4,-0.3,-0.2,-0.1,0,0.1,0.2,0.3,0.4], "title": null, "labelPadding": 24, "labelExpr": "datum.value === 0 ? '0' : ''", "tickSize": {"condition": {"test": "datum.value === 0", "value": -12}, "value": -7}}}}},
   {"data": {"values": [{"w":3727,"y1":-0.49,"y2":0.5}]},
    "mark": {"type": "rule", "color": "#111", "strokeWidth": 1, "strokeDash": [2, 3]},
    "encoding": {
     "x": {"field": "w", "type": "quantitative", "scale": {"domain": [3380, 4018], "nice": false, "zero": false}, "axis": null},
     "y": {"field": "y1", "type": "quantitative", "scale": {"domain": [-0.49, 0.5], "nice": false, "zero": false}, "axis": {"orient": "right", "values": [-0.4,-0.3,-0.2,-0.1,0,0.1,0.2,0.3,0.4], "labels": false, "title": null, "tickSize": {"condition": {"test": "datum.value === 0", "value": -12}, "value": -7}}},
     "y2": {"field": "y2"}}}
  ]},
 {"width": 402.5, "height": 188.3, "resolve": {"axis": {"x": "independent", "y": "independent"}},
  "layer": [
   {"data": {"name": "b3"}, "mark": {"type": "line", "color": "#111", "strokeWidth": 1, "clip": true},
    "encoding": {
     "x": {"field": "w", "type": "quantitative", "scale": {"domain": [3380, 4018], "nice": false, "zero": false}, "axis": {"orient": "top", "values": [3400,3450,3500,3550,3600,3650,3700,3750,3800,3850,3900,3950,4000], "labels": false, "title": null, "tickSize": {"condition": {"test": "datum.value % 200 === 0", "value": -12}, "value": -7}}},
     "y": {"field": "f", "type": "quantitative", "scale": {"domain": [0, 1.71], "nice": false, "zero": false}, "axis": {"orient": "left", "values": [0,0.1,0.2,0.3,0.4,0.5,0.6,0.7,0.8,0.9,1,1.1,1.2,1.3,1.4,1.5,1.6], "title": null, "labelPadding": 24, "labelExpr": "indexof([0,0.5,1,1.5], datum.value) >= 0 ? format(datum.value, '~g') : ''", "tickSize": {"condition": {"test": "indexof([0,0.5,1,1.5], datum.value) >= 0", "value": -12}, "value": -7}}}}},
   {"data": {"name": "m3"}, "mark": {"type": "line", "color": "#ff0000", "strokeWidth": 2, "interpolate": "monotone", "clip": true},
    "encoding": {
     "x": {"field": "w", "type": "quantitative", "scale": {"domain": [3380, 4018], "nice": false, "zero": false}, "axis": null},
     "y": {"field": "f", "type": "quantitative", "scale": {"domain": [0, 1.71], "nice": false, "zero": false}, "axis": {"orient": "right", "values": [0,0.1,0.2,0.3,0.4,0.5,0.6,0.7,0.8,0.9,1,1.1,1.2,1.3,1.4,1.5,1.6,1.7], "labels": false, "title": null, "tickSize": {"condition": {"test": "indexof([0,0.5,1,1.5], datum.value) >= 0", "value": -12}, "value": -7}}}}},
   {"data": {"values": [{"w":3580,"y1":0,"y2":1.43},{"w":3830,"y1":0,"y2":1.71},{"w":3835,"y1":0,"y2":1.71},{"w":3889,"y1":0,"y2":1.71},{"w":3934,"y1":0,"y2":1.43},{"w":3968,"y1":0,"y2":1.43},{"w":3970,"y1":0,"y2":1.71}]},
    "mark": {"type": "rule", "color": "#111", "strokeWidth": 1, "strokeDash": [2, 3]},
    "encoding": {
     "x": {"field": "w", "type": "quantitative", "scale": {"domain": [3380, 4018], "nice": false, "zero": false}, "axis": null},
     "y": {"field": "y1", "type": "quantitative", "scale": {"domain": [0, 1.71], "nice": false, "zero": false}, "axis": null},
     "y2": {"field": "y2"}}},
   {"data": {"values": [{"w":3580,"f":1.5,"t":"BL"},{"w":3831,"f":1.5,"t":"BL"},{"w":3934,"f":1.5,"t":"K"},{"w":3968,"f":1.5,"t":"H"},{"w":3834,"f":0.11,"t":"H7"},{"w":3888,"f":0.11,"t":"H6"},{"w":3968,"f":0.11,"t":"Hϵ"}]},
    "mark": {"type": "text", "font": "DejaVu Sans", "fontSize": 17, "color": "#3a3a3a", "align": "center", "baseline": "middle"},
    "encoding": {
     "x": {"field": "w", "type": "quantitative", "scale": {"domain": [3380, 4018], "nice": false, "zero": false}, "axis": null},
     "y": {"field": "f", "type": "quantitative", "scale": {"domain": [0, 1.71], "nice": false, "zero": false}, "axis": null},
     "text": {"field": "t"}}},
   {"data": {"values": [{"w":3400,"f":0.14,"t":"J0848 − 3"}]},
    "mark": {"type": "text", "font": "DejaVu Sans", "fontSize": 18, "color": "#111", "align": "left", "baseline": "middle"},
    "encoding": {
     "x": {"field": "w", "type": "quantitative", "scale": {"domain": [3380, 4018], "nice": false, "zero": false}, "axis": null},
     "y": {"field": "f", "type": "quantitative", "scale": {"domain": [0, 1.71], "nice": false, "zero": false}, "axis": null},
     "text": {"field": "t"}}}
  ]},
 {"width": 402.5, "height": 108.3, "resolve": {"axis": {"x": "independent", "y": "independent"}},
  "layer": [
   {"data": {"name": "r3"}, "mark": {"type": "line", "color": "#111", "strokeWidth": 1, "clip": true},
    "encoding": {
     "x": {"field": "w", "type": "quantitative", "scale": {"domain": [3380, 4018], "nice": false, "zero": false}, "axis": {"orient": "bottom", "values": [3400,3450,3500,3550,3600,3650,3700,3750,3800,3850,3900,3950,4000], "title": "λ (rest frame)", "titleFontSize": 20, "titleFontWeight": "normal", "titleColor": "#333", "titleX": 192.5, "titleY": 44, "titleAlign": "center", "titleBaseline": "alphabetic", "labelBaseline": "alphabetic", "labelPadding": 33, "labelExpr": "datum.value % 200 === 0 ? format(datum.value, 'd') : ''", "tickSize": {"condition": {"test": "datum.value % 200 === 0", "value": -12}, "value": -7}}},
     "y": {"field": "f", "type": "quantitative", "scale": {"domain": [-0.49, 0.5], "nice": false, "zero": false}, "axis": {"orient": "left", "values": [-0.4,-0.3,-0.2,-0.1,0,0.1,0.2,0.3,0.4], "title": null, "labelPadding": 24, "labelExpr": "datum.value === 0 ? '0' : ''", "tickSize": {"condition": {"test": "datum.value === 0", "value": -12}, "value": -7}}}}},
   {"data": {"values": [{"w":3835,"y1":-0.49,"y2":0.5},{"w":3889,"y1":-0.49,"y2":0.5},{"w":3969,"y1":-0.49,"y2":0.5}]},
    "mark": {"type": "rule", "color": "#111", "strokeWidth": 1, "strokeDash": [2, 3]},
    "encoding": {
     "x": {"field": "w", "type": "quantitative", "scale": {"domain": [3380, 4018], "nice": false, "zero": false}, "axis": null},
     "y": {"field": "y1", "type": "quantitative", "scale": {"domain": [-0.49, 0.5], "nice": false, "zero": false}, "axis": {"orient": "right", "values": [-0.4,-0.3,-0.2,-0.1,0,0.1,0.2,0.3,0.4], "labels": false, "title": null, "tickSize": {"condition": {"test": "datum.value === 0", "value": -12}, "value": -7}}},
     "y2": {"field": "y2"}}}
  ]}
]
}
